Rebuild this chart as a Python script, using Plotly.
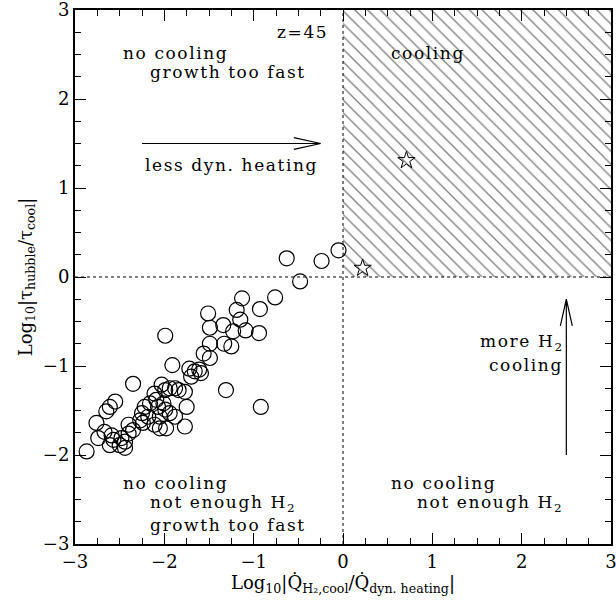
import plotly.graph_objects as go

# Halo sample: log cooling/heating ratio vs log hubble/cooling time ratio
circle_x = [-0.63, -0.24, -0.05, -0.48, -0.76, -1.13, -0.93, -1.19, -1.51, -1.15,
            -1.34, -1.49, -1.09, -0.94, -1.23, -1.99, -1.49, -1.33, -1.25, -1.56,
            -1.49, -1.91, -1.72, -1.66, -1.61, -1.70, -1.59, -1.31, -0.92,
            -2.87, -2.35, -2.55, -2.61, -2.65, -2.76, -2.67, -2.74, -2.59, -2.57,
            -2.61, -2.48, -2.44, -2.44, -2.50, -2.40, -2.40, -2.35, -2.27, -2.25,
            -2.22, -2.16, -2.09, -2.11, -2.03, -1.99, -1.94, -1.88, -1.84, -1.77,
            -1.75, -1.77, -1.94, -1.88, -1.99, -2.05, -2.11, -2.05, -1.98, -2.18,
            -2.24, -2.01, -2.07]
circle_y = [0.21, 0.18, 0.30, -0.05, -0.23, -0.24, -0.36, -0.37, -0.41, -0.48,
            -0.54, -0.57, -0.60, -0.63, -0.61, -0.66, -0.75, -0.75, -0.78, -0.86,
            -0.91, -0.99, -1.03, -1.06, -1.04, -1.12, -1.08, -1.27, -1.46,
            -1.96, -1.20, -1.40, -1.46, -1.51, -1.64, -1.74, -1.81, -1.78, -1.83,
            -1.89, -1.81, -1.85, -1.92, -1.89, -1.76, -1.66, -1.72, -1.61, -1.53,
            -1.46, -1.42, -1.38, -1.31, -1.21, -1.27, -1.25, -1.25, -1.27, -1.29,
            -1.46, -1.68, -1.53, -1.57, -1.49, -1.57, -1.66, -1.70, -1.70, -1.57,
            -1.64, -1.42, -1.46]

star_x = [0.71, 0.22]
star_y = [1.31, 0.10]

# Cooling region (upper right quadrant)
region_x = [0, 3, 3, 0, 0]
region_y = [0, 0, 3, 3, 0]

# Arrows: (tail x, tail y, tip x, tip y)
arrow_h = (-2.25, 1.5, -0.25, 1.5)
arrow_v = (2.5, -2.0, 2.5, -0.25)

SERIF = "DejaVu Serif"
FS = 17

fig = go.Figure()

fig.add_trace(go.Scatter(
    x=region_x, y=region_y, mode="lines", fill="toself",
    line=dict(width=0, color="rgba(0,0,0,0)"),
    fillcolor="white",
    fillpattern=dict(shape="\\", size=9, solidity=0.15, fgcolor="black", bgcolor="white"),
    hoverinfo="skip", showlegend=False,
))

fig.add_trace(go.Scatter(
    x=circle_x, y=circle_y, mode="markers",
    marker=dict(symbol="circle-open", size=15, color="black", line=dict(width=1.2)),
    showlegend=False,
))

fig.add_trace(go.Scatter(
    x=star_x, y=star_y, mode="markers",
    marker=dict(symbol="star-open", size=13, color="black", line=dict(width=1)),
    showlegend=False,
))

shapes = [
    dict(type="line", xref="x", yref="y", x0=0, x1=0, y0=-3, y1=3,
         line=dict(color="black", width=1, dash="dot")),
    dict(type="line", xref="x", yref="y", x0=-3, x1=3, y0=0, y1=0,
         line=dict(color="black", width=1, dash="dot")),
]

# open V-shaped arrowheads, head length / half width in axis units
head_len, head_half = 0.30, 0.067
x0, y0, x1, y1 = arrow_h
shapes.append(dict(type="path", xref="x", yref="y",
                   path=f"M{x0},{y0} L{x1},{y1} M{x1 - head_len},{y1 + head_half} L{x1},{y1} L{x1 - head_len},{y1 - head_half}",
                   line=dict(color="black", width=1.2)))
x0, y0, x1, y1 = arrow_v
shapes.append(dict(type="path", xref="x", yref="y",
                   path=f"M{x0},{y0} L{x1},{y1} M{x1 - head_half},{y1 - head_len} L{x1},{y1} L{x1 + head_half},{y1 - head_len}",
                   line=dict(color="black", width=1.2)))


def label(text, x, y, anchor="left"):
    return dict(text=f'<span style="letter-spacing:1.6px">{text}</span>',
                x=x, y=y, xref="x", yref="y", showarrow=False,
                xanchor=anchor, yanchor="middle",
                font=dict(family=SERIF, size=FS, color="black"))


annotations = [
    label("z=45", -0.15, 2.75, "right"),
    label("no cooling", -2.48, 2.52),
    label("growth too fast", -2.18, 2.30),
    label("cooling", 0.51, 2.52),
    label("less dyn. heating", -2.24, 1.26),
    label("more H<sub>2</sub>", 1.51, -0.74),
    label("cooling", 1.61, -0.99),
    label("no cooling", -2.48, -2.31),
    label("not enough H<sub>2</sub>", -2.18, -2.55),
    label("growth too fast", -2.18, -2.79),
    label("no cooling", 0.52, -2.31),
    label("not enough H<sub>2</sub>", 0.81, -2.55),
]

axis_common = dict(
    range=[-3, 3], tick0=-3, dtick=1, ticks="inside", ticklen=11, tickwidth=1,
    tickcolor="black", showline=True, linewidth=2, linecolor="black",
    mirror="ticks", showgrid=False, zeroline=False, ticklabeloverflow="allow",
    automargin=False,
    minor=dict(dtick=0.25, ticks="inside", ticklen=6, tickwidth=1,
               tickcolor="black", showgrid=False),
    tickfont=dict(family=SERIF, size=18, color="black"),
)

fig.update_layout(
    width=616, height=609,
    margin=dict(l=75, r=5, t=10, b=65),
    paper_bgcolor="white", plot_bgcolor="white",
    shapes=shapes, annotations=annotations,
    xaxis=dict(**axis_common,
               title=dict(text="Log<sub>10</sub>|Q̇<sub>H₂,cool</sub>/Q̇<sub>dyn. heating</sub>|",
                          font=dict(family=SERIF, size=18, color="black"), standoff=6)),
    yaxis=dict(**axis_common,
               title=dict(text="Log<sub>10</sub>|τ<sub>hubble</sub>/τ<sub>cool</sub>|",
                          font=dict(family=SERIF, size=18, color="black"), standoff=6)),
)

fig.write_html("out.html")
